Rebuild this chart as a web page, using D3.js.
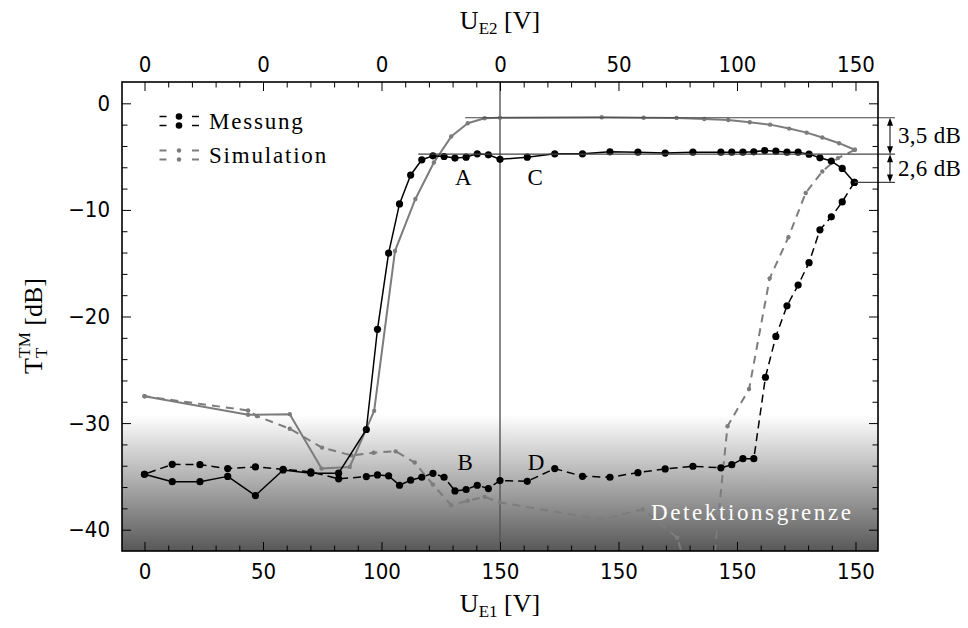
<!DOCTYPE html>
<html>
<head>
<meta charset="utf-8">
<script src="https://cdn.jsdelivr.net/npm/d3@7"></script>
<style>
  html, body { margin: 0; padding: 0; background: #fff; }
  svg { display: block; }
</style>
</head>
<body>
<svg id="chart" width="968" height="628"></svg>
<script>
// ---------- data (sweep position: 0..150 = U_E1, 150..300 = U_E2 + 150) ----------
const xTickValues = [0, 50, 100, 150, 200, 250, 300];
const bottomTickLabels = ["0", "50", "100", "150", "150", "150", "150"];
const topTickLabels = ["0", "0", "0", "0", "50", "100", "150"];
const yTickValues = [0, -10, -20, -30, -40];

// Messung, forward sweep (solid black)
const messHinX = [0, 11.7, 23.4, 35.1, 46.8, 58.5, 70.2, 81.9, 93.6, 98.3, 103, 107.6, 112.3, 117, 121.7, 126.4, 131, 135.7, 140.4, 145.1, 150, 161.5, 173.1, 184.8, 196.4, 208.2, 219.7, 231.4, 243.2, 247.8, 252.5, 257.1, 261.7, 266.4, 271.1, 275.8, 280.4, 285, 289.8, 294.4, 299.5];
const messHinY = [-34.8, -35.5, -35.5, -35.0, -36.8, -34.4, -34.7, -34.7, -30.6, -21.2, -14.05, -9.44, -6.73, -5.3, -4.93, -4.99, -5.14, -5.05, -4.74, -4.83, -5.25, -5.05, -4.74, -4.74, -4.55, -4.58, -4.67, -4.58, -4.58, -4.58, -4.58, -4.55, -4.43, -4.49, -4.58, -4.58, -4.77, -5.11, -5.42, -6.11, -7.42];

// Messung, backward sweep (dashed black)
const messRueckX = [299.5, 294.4, 289.8, 285, 280.4, 275.8, 271.1, 266.4, 262, 257.1, 252.5, 247.8, 243.2, 231.4, 219.7, 208.2, 196.4, 184.8, 173.1, 161.5, 150, 145.1, 140.4, 135.7, 131, 126.4, 121.7, 117, 112.3, 107.6, 103, 98.3, 93.6, 81.9, 70.2, 58.5, 46.8, 35.1, 23.4, 11.7, 0];
const messRueckY = [-7.42, -9.25, -10.65, -11.87, -14.95, -17.05, -19.0, -21.87, -25.7, -33.34, -33.34, -33.9, -34.2, -34.05, -34.3, -34.65, -35.08, -34.99, -34.27, -35.46, -35.39, -36.14, -35.83, -36.23, -36.36, -35.08, -34.71, -35.08, -35.36, -35.83, -34.95, -34.86, -35.02, -35.23, -34.58, -34.33, -34.11, -34.27, -33.9, -33.87, -34.8];

// Simulation, forward sweep (solid grey)
const simHinX = [0, 43.7, 61.3, 74.7, 86.6, 96.9, 105.7, 114.3, 122.1, 129.4, 136.4, 143.5, 150, 192.9, 210.6, 224.5, 236.2, 246.3, 255.4, 264, 272, 279.4, 286, 293.1, 299.7];
const simHinY = [-27.48, -29.22, -29.16, -34.27, -34.11, -28.85, -13.85, -8.97, -5.55, -3.12, -1.87, -1.40, -1.35, -1.31, -1.35, -1.37, -1.47, -1.56, -1.78, -2.0, -2.37, -2.75, -3.21, -3.74, -4.36];

// Simulation, backward sweep (dashed grey)
const simRueckX = [299.7, 292.6, 286, 279, 271.7, 263.8, 255.1, 246, 237, 224.8, 210.2, 192.9, 150, 143.5, 136.4, 129.4, 121.7, 114, 106, 96.7, 87.3, 74.9, 61.3, 47.5, 43.7, 0];
const simRueckY = [-4.36, -5.14, -6.39, -8.41, -12.56, -16.42, -26.8, -30.3, -50, -40.75, -38.1, -39.04, -37.45, -36.92, -37.29, -37.7, -35.77, -33.7, -32.65, -32.78, -33.03, -32.3, -30.53, -29.35, -28.82, -27.48];

// annotation levels
const refLevels = [-1.35, -4.77, -7.42];
const refStarts = [135.3, 115.5, 299.5];
const deltaLabels = ["3,5 dB", "2,6 dB"];
const pointLabels = ["A", "B", "C", "D"];
const pointLabelX = [134.5, 135.3, 164.8, 165.2];
const pointLabelY = [-7.65, -34.4, -7.65, -34.4];
const detectionLimit = -29.2;

// ---------- drawing ----------
const svg = d3.select("#chart");
const W = 968, H = 628;
const L = 122, R = 878, T = 82, B = 551;
const x = d3.scaleLinear().domain([-9.5, 309.5]).range([L, R]);
const y = d3.scaleLinear().domain([-42, 2]).range([B, T]);

const SERIF = "'Liberation Serif', 'DejaVu Serif', serif";
const SANS = "'Liberation Sans Narrow', 'DejaVu Sans Condensed', 'Liberation Sans', sans-serif";
const GREY = "#7c7c7c";

const defs = svg.append("defs");
const grad = defs.append("linearGradient")
  .attr("id", "detgrad").attr("gradientUnits", "userSpaceOnUse")
  .attr("x1", 0).attr("x2", 0).attr("y1", y(detectionLimit)).attr("y2", y(-42));
grad.append("stop").attr("offset", "0").attr("stop-color", "#ffffff");
grad.append("stop").attr("offset", "1").attr("stop-color", "#585858");
defs.append("clipPath").attr("id", "plotclip")
  .append("rect").attr("x", L).attr("y", T).attr("width", R - L).attr("height", B - T);

// detection-limit background
svg.append("rect")
  .attr("x", L).attr("y", y(detectionLimit))
  .attr("width", R - L).attr("height", y(-42) - y(detectionLimit))
  .attr("fill", "url(#detgrad)");

// vertical separator at 150
svg.append("line")
  .attr("x1", x(150)).attr("x2", x(150)).attr("y1", T).attr("y2", B)
  .attr("stroke", "#555").attr("stroke-width", 1.4);

const zip = (a, b) => a.map((v, i) => [v, b[i]]);
const line = d3.line().x(d => x(d[0])).y(d => y(d[1]));
const plot = svg.append("g").attr("clip-path", "url(#plotclip)");

function series(xs, ys, color, width, dash, r) {
  const data = zip(xs, ys);
  plot.append("path").datum(data)
    .attr("d", line).attr("fill", "none")
    .attr("stroke", color).attr("stroke-width", width)
    .attr("stroke-dasharray", dash)
    .attr("stroke-linejoin", "round");
  plot.append("g").selectAll("circle").data(data).join("circle")
    .attr("cx", d => x(d[0])).attr("cy", d => y(d[1])).attr("r", r)
    .attr("fill", color);
}
series(simRueckX, simRueckY, GREY, 2, "8,6", 2.2);
series(simHinX, simHinY, GREY, 2, null, 2.2);
series(messRueckX, messRueckY, "#000", 1.5, "8,5", 3.6);
series(messHinX, messHinY, "#000", 1.5, null, 3.6);

// reference lines
refLevels.forEach((lv, i) => {
  svg.append("line")
    .attr("x1", x(refStarts[i])).attr("x2", 895)
    .attr("y1", y(lv)).attr("y2", y(lv))
    .attr("stroke", "#444").attr("stroke-width", 1.1);
});
// double arrows
function dArrow(ax, ya, yb) {
  const g = svg.append("g");
  g.append("line").attr("x1", ax).attr("x2", ax).attr("y1", ya + 4).attr("y2", yb - 4)
    .attr("stroke", "#000").attr("stroke-width", 1);
  g.append("path").attr("d", `M${ax},${ya} L${ax - 3},${ya + 8} L${ax + 3},${ya + 8} Z`).attr("fill", "#000");
  g.append("path").attr("d", `M${ax},${yb} L${ax - 3},${yb - 8} L${ax + 3},${yb - 8} Z`).attr("fill", "#000");
}
dArrow(890, y(refLevels[0]), y(refLevels[1]));
dArrow(890, y(refLevels[1]), y(refLevels[2]));
deltaLabels.forEach((t, i) => {
  svg.append("text")
    .attr("x", 898).attr("y", (y(refLevels[i]) + y(refLevels[i + 1])) / 2 + 7.5)
    .attr("font-family", SERIF).attr("font-size", 23).attr("letter-spacing", 0.3)
    .attr("fill", "#000").text(t);
});

// point labels
pointLabels.forEach((t, i) => {
  svg.append("text")
    .attr("x", x(pointLabelX[i])).attr("y", y(pointLabelY[i]))
    .attr("text-anchor", "middle")
    .attr("font-family", SERIF).attr("font-size", 23).attr("fill", "#000").text(t);
});

// detection limit text
svg.append("text")
  .attr("x", 651).attr("y", 520)
  .attr("font-family", SERIF).attr("font-size", 23).attr("letter-spacing", 2.6)
  .attr("fill", "#fff").text("Detektionsgrenze");

// frame
svg.append("rect").attr("x", L).attr("y", T).attr("width", R - L).attr("height", B - T)
  .attr("fill", "none").attr("stroke", "#000").attr("stroke-width", 1.6);

// axes
const minorX = d3.range(0, 301, 10).filter(v => v % 50 !== 0);
const minorY = d3.range(-40, 1, 2).filter(v => v % 10 !== 0);

function styleAxis(g) {
  g.select(".domain").remove();
  g.selectAll("line").attr("stroke", "#000").attr("stroke-width", 1);
  g.selectAll("text").attr("font-family", SANS).attr("font-size", 22).attr("fill", "#000");
}

svg.append("g").attr("transform", `translate(0,${B})`)
  .call(d3.axisBottom(x).tickValues(xTickValues).tickSize(-9).tickPadding(12)
    .tickFormat((d, i) => bottomTickLabels[i]))
  .call(styleAxis);
svg.append("g").attr("transform", `translate(0,${B})`)
  .call(d3.axisBottom(x).tickValues(minorX).tickSize(-5.5).tickFormat(""))
  .call(styleAxis);
svg.append("g").attr("transform", `translate(0,${T})`)
  .call(d3.axisTop(x).tickValues(xTickValues).tickSize(-9).tickPadding(10)
    .tickFormat((d, i) => topTickLabels[i]))
  .call(styleAxis);
svg.append("g").attr("transform", `translate(0,${T})`)
  .call(d3.axisTop(x).tickValues(minorX).tickSize(-5.5).tickFormat(""))
  .call(styleAxis);
svg.append("g").attr("transform", `translate(${L},0)`)
  .call(d3.axisLeft(y).tickValues(yTickValues).tickSize(-9).tickPadding(12))
  .call(styleAxis);
svg.append("g").attr("transform", `translate(${L},0)`)
  .call(d3.axisLeft(y).tickValues(minorY).tickSize(-5.5).tickFormat(""))
  .call(styleAxis);
svg.append("g").attr("transform", `translate(${R},0)`)
  .call(d3.axisRight(y).tickValues(yTickValues).tickSize(-9).tickFormat(""))
  .call(styleAxis);
svg.append("g").attr("transform", `translate(${R},0)`)
  .call(d3.axisRight(y).tickValues(minorY).tickSize(-5.5).tickFormat(""))
  .call(styleAxis);

// axis titles
function uTitle(cx, by, sub) {
  const t = svg.append("text").attr("x", cx).attr("y", by).attr("text-anchor", "middle")
    .attr("font-family", SERIF).attr("font-size", 26).attr("fill", "#000");
  t.append("tspan").text("U");
  t.append("tspan").attr("font-size", 17).attr("dy", 5).text(sub);
  t.append("tspan").attr("dy", -5).text(" [V]");
}
uTitle(500, 612, "E1");
uTitle(500, 29, "E2");

const yt = svg.append("text")
  .attr("transform", "translate(42,326) rotate(-90)")
  .attr("text-anchor", "middle")
  .attr("font-family", SERIF).attr("font-size", 26).attr("fill", "#000");
yt.append("tspan").text("T");
yt.append("tspan").attr("font-size", 17).attr("dy", 5).text("T");
yt.append("tspan").attr("font-size", 17).attr("dx", -10).attr("dy", -17).text("TM");
yt.append("tspan").attr("dy", 12).text(" [dB]");

// legend
const legendNames = ["Messung", "Simulation"];
const legendColors = ["#000", GREY];
const legendR = [3.3, 2.2];
const legendY = [121, 155];
legendNames.forEach((name, i) => {
  const g = svg.append("g");
  [-4.5, 4.5].forEach(off => {
    const yy = legendY[i] + off;
    g.append("line").attr("x1", 159.5).attr("x2", 166.5).attr("y1", yy).attr("y2", yy)
      .attr("stroke", legendColors[i]).attr("stroke-width", i ? 2 : 1.5);
    g.append("line").attr("x1", 192).attr("x2", 199).attr("y1", yy).attr("y2", yy)
      .attr("stroke", legendColors[i]).attr("stroke-width", i ? 2 : 1.5);
    g.append("circle").attr("cx", 179).attr("cy", yy).attr("r", legendR[i]).attr("fill", legendColors[i]);
  });
  g.append("text").attr("x", 209).attr("y", legendY[i] + 8)
    .attr("font-family", SERIF).attr("font-size", 23).attr("letter-spacing", 1.8)
    .attr("fill", "#000").text(name);
});
</script>
</body>
</html>
